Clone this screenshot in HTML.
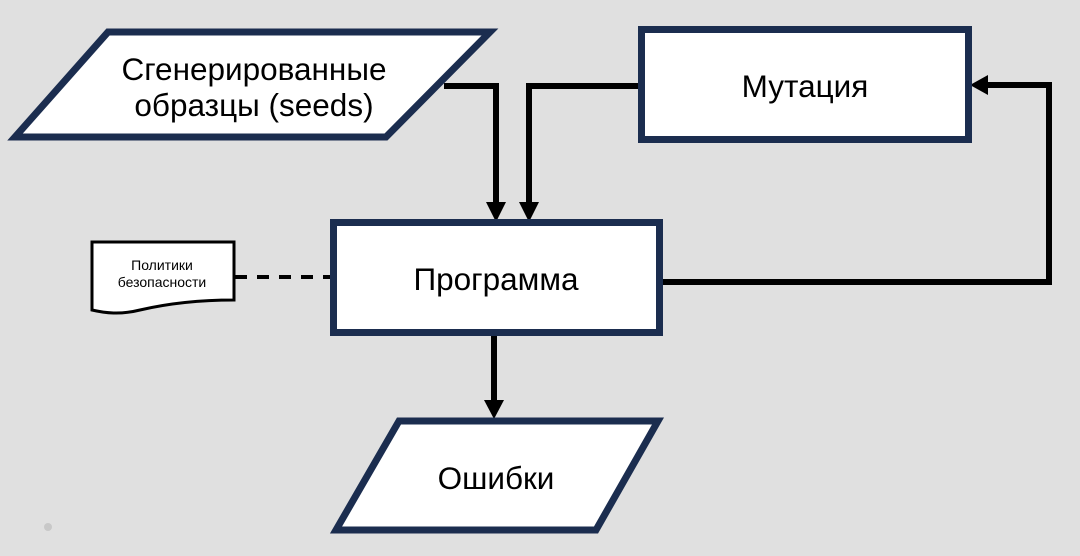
<!DOCTYPE html>
<html><head><meta charset="utf-8"><style>
html,body{margin:0;padding:0;background:#e0e0e0;}
svg{display:block;}
text{font-family:"Liberation Sans","DejaVu Sans",sans-serif;fill:#000;}
</style></head><body>
<svg width="1080" height="556" viewBox="0 0 1080 556" xmlns="http://www.w3.org/2000/svg">
<rect width="1080" height="556" fill="#e0e0e0"/>
<g stroke="#000" stroke-width="6" fill="none">
<polyline points="444,86 496,86 496,205"/>
<polyline points="641,86 529,86 529,205"/>
<polyline points="662,282 1049,282 1049,85 985,85"/>
<line x1="494" y1="336" x2="494" y2="402"/>
<line x1="235" y1="277" x2="332" y2="277" stroke-width="4" stroke-dasharray="12,10"/>
</g>
<g fill="#000">
<polygon points="486,202 506,202 496,222"/>
<polygon points="519,202 539,202 529,222"/>
<polygon points="988,75 988,95 970,85"/>
<polygon points="484,400 504,400 494,419"/>
</g>
<g stroke="#1b2d4f" stroke-width="7" fill="#fff">
<polygon points="108,32 490,32 386,137 15,137"/>
<rect x="641.5" y="29.5" width="327" height="110"/>
<rect x="333.5" y="222.5" width="326" height="110"/>
<polygon points="399,421 658,421 596,530 336,530"/>
</g>
<path d="M92,242 L234,242 L234,300 C200,300 170,303 140,310 C120,315 105,313 92,310 Z" fill="#fff" stroke="#000" stroke-width="3"/>
<text x="254" y="80" font-size="31.5" text-anchor="middle">Сгенерированные</text>
<text x="254" y="116" font-size="31.5" text-anchor="middle">образцы (seeds)</text>
<text x="805" y="97" font-size="31.5" text-anchor="middle">Мутация</text>
<text x="496" y="290" font-size="31.5" text-anchor="middle">Программа</text>
<text x="496" y="489" font-size="31.5" text-anchor="middle">Ошибки</text>
<text x="162" y="270" font-size="14" text-anchor="middle">Политики</text>
<text x="162" y="287" font-size="14" text-anchor="middle">безопасности</text>
<circle cx="48" cy="527" r="4" fill="#c8c8c8"/>
</svg>
</body></html>
